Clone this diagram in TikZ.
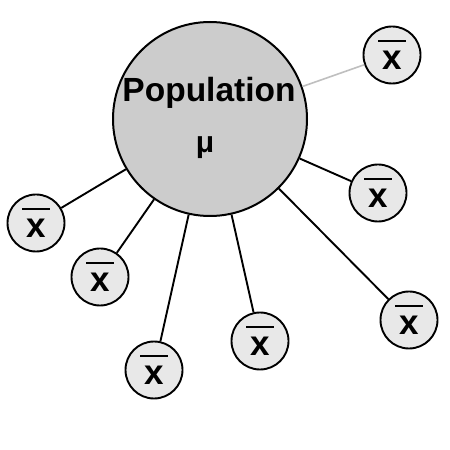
\documentclass[tikz,border=0pt]{standalone}
\usepackage{fontspec}
\setmainfont{Liberation Sans}
\newcommand\xbarsym{\vbox{\offinterlineskip\hrule height 2.2pt width 28pt\vskip 9pt\hbox to 28pt{\hss x\hss}}}
\begin{document}
\begin{tikzpicture}[x=1pt,y=1pt,
  pop/.style={circle,draw,line width=2pt,fill=black!20,minimum size=194pt,inner sep=0pt},
  samp/.style={circle,draw,line width=1.9pt,fill=black!9,minimum size=57pt,inner sep=0pt,
    font=\bfseries\fontsize{35}{35}\selectfont},
  link/.style={line width=1.9pt},
  faint/.style={line width=1.6pt,draw=black!25}]
\useasboundingbox[fill=white] (0,0) rectangle (450,450);
\node[pop] (P) at (210,331) {};
\node[font=\bfseries\fontsize{33.5}{33.5}\selectfont,anchor=base] (T) at (209,348) {Population};
\node[font=\bfseries\fontsize{30}{30}\selectfont,anchor=base] (M) at (205,297) {μ};
\node[samp] (s1) at (392,395) {\xbarsym};
\node[samp] (s2) at (378,257) {\xbarsym};
\node[samp] (s3) at (409,130) {\xbarsym};
\node[samp] (s4) at (260,109) {\xbarsym};
\node[samp] (s5) at (154,80) {\xbarsym};
\node[samp] (s6) at (100,173) {\xbarsym};
\node[samp] (s7) at (36,227) {\xbarsym};
\draw[faint] (P) -- (s1);
\foreach \s in {s2,s3,s4,s5,s6,s7} \draw[link] (P) -- (\s);
\end{tikzpicture}
\end{document}
